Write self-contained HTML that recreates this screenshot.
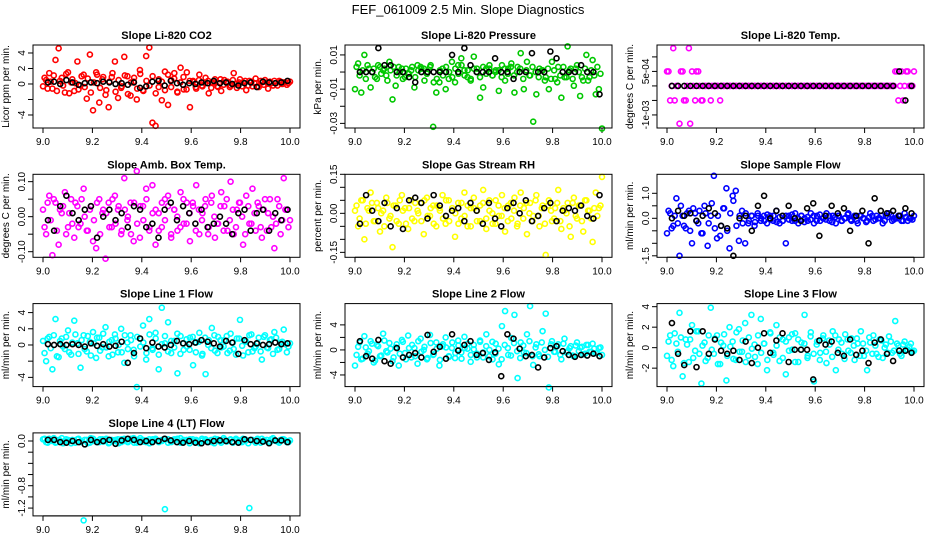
<!DOCTYPE html>
<html><head><meta charset="utf-8"><style>
body{margin:0;background:#fff}
svg{display:block;font-family:"Liberation Sans",sans-serif}
</style></head><body>
<svg id="c" width="936" height="540" viewBox="0 0 936 540">
<rect width="936" height="540" fill="#fff"/>
<text x="468" y="14" text-anchor="middle" font-size="13">FEF_061009  2.5 Min. Slope Diagnostics</text>
</svg>
<script>
const titles=["Slope Li-820 CO2","Slope Li-820 Pressure","Slope Li-820 Temp.","Slope Amb. Box Temp.","Slope Gas Stream RH","Slope Sample Flow","Slope Line 1 Flow","Slope Line 2 Flow","Slope Line 3 Flow","Slope Line 4 (LT) Flow"];
const ylabels=["Licor ppm per min.","kPa per min.","degrees C per min.","degrees C per min.","percent per min.","ml/min per min.","ml/min per min.","ml/min per min.","ml/min per min.","ml/min per min."];
const colors=["#ff0000","#00c800","#ff00ff","#ff00ff","#ffff00","#0000ff","#00ffff","#00ffff","#00ffff","#00ffff"];
const ylims=[[-5.68,5.03],[-0.0327,0.0158],[-0.00145,0.00141],[-0.116,0.121],[-0.169,0.15],[-1.56,1.76],[-5.14,5.11],[-5.86,7.4],[-3.8,4.3],[-1.34,0.145]];
const yticks=[[-4,-2,0,2,4],[-0.03,-0.02,-0.01,0,0.01],[-0.001,-0.0005,0,0.0005,0.001],[-0.1,-0.05,0,0.05,0.1],[-0.15,-0.1,-0.05,0,0.05,0.1,0.15],[-1.5,-1,-0.5,0,0.5,1],[-4,-2,0,2,4],[-4,-2,0,2,4],[-2,0,2,4],[-1.2,-1,-0.8,-0.6,-0.4,-0.2,0]];
const ytickLabels=[["-4","","0","2","4"],["-0.03","","-0.01","","0.01"],["-1e-03","","","5e-04",""],["-0.10","","0.00","","0.10"],["-0.15","","","0.00","","","0.15"],["-1.5","","","0.0","","1.0"],["-4","","0","2","4"],["-4","","0","","4"],["-2","0","2","4"],["-1.2","","-0.8","","","","0.0"]];
const xticks=[9.0,9.2,9.4,9.6,9.8,10.0];
const xtickLabels=["9.0","9.2","9.4","9.6","9.8","10.0"];
const colored=[
[-0.3,0.5,1.4,-0.6,3.1,4.6,0.8,-1.1,1.5,0.2,-0.9,2.9,-0.2,1.2,-1.9,3.8,-3.4,1.5,-2.4,0.6,-1.4,-3.0,0.9,2.9,-1.8,-0.5,3.5,1.0,-1.5,0.3,-2.0,1.8,-0.8,3.6,4.7,-5.0,-5.4,-0.4,-2.1,1.6,-2.7,0.5,1.4,-1.1,2.1,-0.7,1.5,-3.0,0.4,-0.6,1.2,-0.3,0.8,-1.2,0.2,0.6,-0.4,-0.9,0.5,0.3,-0.2,1.4,-0.5,0.6,0.2,-0.8,0.4,-0.3,0.7,-0.4,0.2,0.5,-0.6,0.1,0.4,-0.2,0.3,0.2,-0.1,0.3],
[-0.01,0.005,-0.012,0.01,0.004,-0.009,0.002,-0.004,0.003,0.001,-0.002,0.006,-0.016,-0.008,0.003,0.002,-0.003,-0.001,0.001,-0.009,0.004,0.003,0.002,-0.001,0.003,-0.032,-0.012,-0.006,0.002,-0.01,-0.004,0.006,-0.006,0.004,0.008,0.001,-0.003,-0.005,0.009,0.002,-0.015,-0.009,0.002,0.004,-0.002,0.001,-0.011,0.004,-0.005,0.002,0.005,-0.012,0.003,0.011,-0.01,0.006,-0.002,-0.029,-0.013,0.002,0.001,-0.003,-0.01,0.006,-0.004,0.003,-0.015,-0.003,0.015,0.002,-0.008,0.004,-0.014,-0.005,0.01,-0.003,0.007,-0.013,-0.01,-0.033],
[5e-4,-5e-4,1.3e-3,0,-1.3e-3,5e-4,-5e-4,1.3e-3,5e-4,-5e-4,5e-4,-5e-4,0,0,-5e-4,0,0,-5e-4,0,0,0,0,0,0,0,0,0,0,0,0,0,0,0,0,0,0,0,0,0,0,0,0,0,0,0,0,0,0,0,0,0,0,0,0,0,0,0,0,0,0,0,0,0,0,0,0,0,0,0,0,0,0,0,5e-4,-5e-4,5e-4,0,5e-4,0,5e-4],
[0.02,-0.05,0.06,-0.11,0.04,-0.08,0.01,0.07,-0.03,0.05,-0.06,0.03,-0.02,0.08,-0.04,0.02,-0.07,-0.09,0.05,0.01,-0.12,0.04,-0.03,0.06,0.02,-0.05,0.11,-0.01,0.04,-0.07,0.13,-0.06,0.03,0.08,-0.04,0.09,-0.08,0.01,-0.03,0.05,0.06,-0.06,0.02,-0.04,0.07,-0.02,0.04,-0.07,0.03,0.09,-0.05,0.01,0.05,-0.03,0.06,-0.06,-0.02,0.07,0.03,-0.04,0.1,-0.05,0.02,0.04,-0.08,0.06,-0.02,0.08,-0.04,0.03,-0.06,0.05,0.01,-0.03,-0.09,0.05,-0.05,0.11,0.02,-0.01],
[0.01,-0.05,0.05,-0.1,0.02,0.08,-0.03,0.04,-0.07,0.01,0.06,-0.02,-0.13,0.03,-0.04,0.07,0.02,-0.06,0.05,-0.03,0.01,0.04,-0.08,0.06,-0.01,0.03,-0.05,0.02,0.07,-0.04,0.05,0.01,-0.09,0.04,-0.02,0.08,-0.05,0.02,0.06,-0.03,0.03,0.09,-0.06,0.01,-0.04,0.05,-0.01,0.07,-0.07,0.03,-0.02,0.06,-0.04,0.08,0.02,-0.08,0.04,-0.01,0.07,-0.05,0.03,-0.16,0.05,-0.03,0.02,0.09,-0.06,0.01,0.04,-0.09,0.06,-0.02,0.03,-0.07,0.05,0.01,-0.11,0.08,0.02,0.14],
[-0.6,0.2,-0.3,0.8,-1.5,0.1,-0.4,0.3,-1.0,0.2,-0.2,-0.6,0.5,-1.1,0.1,1.7,-0.8,-0.7,0.4,1.2,-1.2,0.9,1.1,-0.9,0.3,-1.0,-0.2,0.1,-0.3,0.2,-0.1,0.1,-0.2,0.1,-0.1,0.3,-0.2,-0.1,-1.0,0.1,-0.1,0.2,-0.2,0.1,0,-0.1,0.2,-0.2,0.1,-0.1,0,0.2,-0.1,0.1,-0.2,0.1,-0.1,0,0.2,-0.1,0.1,-0.2,0.1,0,-0.1,0.2,-0.1,0.1,0,-0.2,0.1,0.2,-0.1,0,0.1,-0.1,0.2,-0.1,0,0.1],
[0.5,-2,1,-3,3.2,-1.5,0.8,-0.5,1.8,-1.2,3,0.2,-2.8,1.2,-0.8,0.4,1.6,-1.6,0.9,-0.3,2.2,-1.4,0.6,1.3,-0.9,2.0,-2.2,0.3,1.2,-0.6,-5.2,0.8,2.4,-1.8,3.2,-0.4,1.5,-3,4.6,0.2,2.8,-1,0.5,-3.5,1.1,-0.6,-0.2,0.9,-2.5,0.3,1.5,-1.1,-3.6,0.6,2.1,-0.7,1.0,-0.3,0.6,-1.0,1.4,-0.5,0.8,3.1,-1.3,0.4,1.2,-0.8,-0.2,0.9,-1.8,1.2,-0.4,0.7,1.6,-0.6,0.3,1.9,-0.9,0.2],
[-2.5,0.5,-1.5,2.2,-0.6,1.4,-2,0.8,-1,2.6,-0.2,1.1,-1.8,0.4,-2.5,1.6,-0.5,2.3,-1.2,0.3,-2.2,1.8,0,-1.5,2.4,-0.8,1.2,-2.5,0.6,2,-1.0,0.3,-1.3,1.5,-0.4,2.1,0.2,-1.9,0.8,-0.6,1.3,-1.2,2.5,0,-1.5,1.0,-2.3,3.8,6.2,-0.8,1.9,5.6,-4.5,1.2,-0.4,2.5,7,-2.4,0.9,-1.0,3,5.8,-6,1.4,-0.3,0.9,-1.5,1.8,-0.2,0.6,-1.0,1.2,0.4,-0.7,0.8,-0.3,1.0,-0.5,0.3,-0.8],
[-0.8,1.2,-1.8,0.4,3.4,-2.8,0.8,-1.4,2.2,-0.3,1.6,-3.5,0.5,-1.0,3.9,-0.6,1.2,-1.6,0.2,-3.2,2.0,0.6,-1.2,1.8,-0.4,2.4,-0.8,3.2,0.3,-1.6,2.8,0.4,-2.2,1.5,-0.5,2.2,-1.3,0.8,-2.6,1.0,-0.2,1.4,-1.4,0.5,3.2,-0.8,1.5,-3.3,0.6,-0.5,1.2,-1.5,0.3,1.6,-2.2,0.8,-0.6,1.3,-0.3,0.9,-1.2,0.4,1.6,-0.8,-2.2,0.5,1.2,-0.6,0.8,-1.0,0.3,1.1,-0.5,2.6,0.2,-0.8,0.6,-0.2,0.4,-0.3],
[0.03,-0.02,0.04,0,-0.03,0.02,0.05,-0.01,0.02,-0.04,0.01,0.03,-0.02,-1.42,0.02,-0.03,0.04,0,-0.02,0.03,0.01,-0.04,0.02,0,0.03,-0.02,0.04,-0.01,0.02,0.05,-0.03,0.01,0.02,-0.02,0.03,0,0.04,-0.01,0.02,-1.22,0.03,-0.02,0.01,0.04,-0.03,0.02,0,0.03,-0.01,0.02,-0.04,0.01,0.03,0,-0.02,0.04,0.01,-0.03,0.02,0,0.03,-0.01,0.02,-0.02,0.04,0.01,-1.2,0.02,-0.03,0.01,0.04,0,-0.02,0.03,0.01,-0.01,0.02,0.03,-0.02,0.01]];
const coloredCore=[
[0.8,-0.6,0.3,1.1,-0.9,0.4,-0.2,1.3,-1.2,0.6,0.1,-0.7,1.0,-0.4,0.7,-1.1,0.2,1.2,-0.5,0.9,-0.8,0.3,1.4,-1.0,0.5,-0.3,1.1,-1.3,0.2,0.8,-0.6,1.3,-0.9,0.4,-0.2,1.0,-1.2,0.6,0.3,-0.8,1.2,-0.4,0.7,-1.0,0.2,0.9,-0.7,0.4,0.3,-0.4,0.5,-0.2,0.1,0.4,-0.5,0.2,-0.3,0.6,-0.1,0.3,-0.4,0.5,0,0.2,-0.3,0.4,-0.2,0.3,0.1,-0.3,0.4,-0.1,0.2,0.3,-0.2,0.1,0.4,0,0.2,0.1],
[0.003,-0.002,0.001,-0.004,0.002,0,-0.003,0.004,-0.001,0.002,-0.005,0.001,0.003,-0.002,0,-0.004,0.002,-0.001,0.003,-0.003,0.001,0.002,-0.005,0,0.004,-0.006,-0.004,0.001,-0.002,0.003,0,-0.003,0.002,-0.001,0.004,-0.002,0.001,-0.004,0.002,0,-0.003,0.003,-0.001,0.002,-0.002,0,0.001,-0.003,0.002,-0.001,0.003,-0.002,0,0.002,-0.004,0.001,-0.002,0.003,0,-0.003,0.001,-0.005,0.002,-0.004,0.001,-0.006,-0.002,0.003,-0.003,0.001,-0.004,0.002,0,-0.003,0.002,-0.005,0.001,-0.002,0.003,-0.001],
[5e-4,0,-5e-4,0,5e-4,-5e-4,0,-1.3e-3,0,5e-4,0,-5e-4,0,0,0,0,0,0,0,0,0,0,0,0,0,0,0,0,0,0,0,0,0,0,0,0,0,0,0,0,0,0,0,0,0,0,0,0,0,0,0,0,0,0,0,0,0,0,0,0,0,0,0,0,0,0,0,0,0,0,0,0,0,0,5e-4,0,-5e-4,5e-4,0,0],
[-0.03,0.04,-0.01,0.05,-0.04,0.02,0.03,-0.05,0.01,-0.02,0.04,-0.03,0.05,0,-0.04,0.03,-0.01,0.04,-0.05,0.02,0.01,-0.03,0.05,-0.02,0.03,-0.04,0.02,0,-0.05,0.04,-0.02,0.03,-0.01,0.05,-0.03,0.01,0.02,-0.04,0.04,-0.01,0.03,-0.05,0.02,0,-0.03,0.05,-0.02,0.01,0.04,-0.04,0.02,-0.01,0.03,-0.05,0.04,0,-0.02,0.03,-0.04,0.05,-0.01,0.02,-0.03,0.04,0,-0.05,0.03,-0.02,0.01,0.04,-0.03,0.02,-0.04,0.05,0,-0.02,0.03,-0.01,0.02,-0.03],
[0.03,-0.02,0.05,-0.04,0.01,0.04,-0.03,0.02,0,-0.05,0.04,-0.01,0.03,-0.03,0.05,0.01,-0.04,0.02,-0.02,0.04,0,-0.03,0.05,-0.01,0.02,-0.04,0.03,0.01,-0.02,0.05,-0.03,0.02,0,-0.04,0.04,-0.01,0.03,-0.05,0.02,0.01,-0.03,0.04,-0.02,0.05,0,-0.04,0.03,-0.01,0.02,-0.03,0.04,0.01,-0.05,0.03,-0.02,0.04,0,-0.03,0.05,-0.01,0.02,-0.04,0.03,0.01,-0.02,0.04,-0.03,0.02,0,-0.05,0.04,-0.01,0.03,-0.03,0.05,0.01,-0.02,0.02,-0.01,0.03],
[0.3,-0.4,0.1,-0.2,0.5,-0.3,0.2,-0.5,0.4,-0.1,0.3,-0.6,0.2,-0.2,0.6,-0.4,0.1,-0.3,0.4,-0.5,0.2,0.7,-0.3,0.1,-0.2,0.2,-0.1,0.1,-0.15,0.1,0,-0.1,0.15,-0.05,0.1,-0.15,0.05,-0.1,0.1,-0.05,0.15,-0.1,0,0.1,-0.15,0.05,-0.05,0.1,-0.1,0.15,0,-0.05,0.1,-0.15,0.05,0.1,-0.1,0,0.15,-0.05,0.05,-0.1,0.1,0,-0.15,0.05,0.1,-0.05,0,0.1,-0.1,0.05,0.15,-0.05,0,0.1,-0.1,0.05,0,-0.05],
[-1.0,0.8,-0.4,1.2,-1.4,0.5,-0.2,1.0,-0.9,0.3,1.3,-1.1,0.6,-0.5,1.1,-1.3,0.2,0.9,-0.7,1.4,-0.3,0.4,-1.2,0.8,0,-0.9,1.2,-0.5,0.6,-1.4,1.0,-0.2,0.3,-1.0,1.3,-0.6,0.8,-1.2,0.1,1.1,-0.8,0.5,-0.3,1.4,-1.1,0.2,0.7,-0.6,1.0,-0.9,0.4,-1.3,0.9,0,-0.4,1.2,-1.0,0.6,-0.2,1.1,-0.7,0.3,-1.2,0.8,-0.1,0.5,-0.9,1.3,-0.4,0.2,-0.8,1.0,-0.3,0.6,-1.1,0.9,-0.5,0.4,0.1,-0.2],
[-0.8,1.2,-1.4,0.4,-0.2,1.0,-1.7,0.6,-0.9,1.5,-0.4,0.2,-1.2,0.9,-0.6,1.3,-1.5,0.3,0.8,-1.0,1.4,-0.3,0.5,-1.3,1.1,-0.7,0.2,-1.6,0.9,0.4,-1.1,1.2,-0.5,0.7,-1.4,0.3,1.0,-0.8,0.1,-1.2,1.5,-0.4,0.6,-1.0,1.3,-0.6,0.2,-1.5,0.8,0.3,-0.9,1.1,-0.2,-1.3,0.7,-0.5,1.4,-1.0,0.4,-0.7,1.2,0,-1.1,0.9,-0.3,0.6,-0.8,1.0,-0.4,0.3,-0.9,0.7,-0.2,0.5,-0.6,0.8,-0.3,0.2,-0.5,0.4],
[0.6,-1.2,1.4,-0.4,1.0,-1.5,0.3,0.8,-1.0,1.6,-0.6,0.2,-1.3,1.2,-0.2,0.9,-1.6,0.5,1.3,-0.8,0.1,-1.1,1.5,-0.4,0.7,-1.4,1.0,-0.1,-0.9,1.2,-0.5,0.4,-1.2,1.4,-0.7,0.2,1.0,-1.0,0.6,-0.3,1.3,-1.4,0.8,-0.2,0.4,-1.0,1.1,-0.6,0.3,-1.2,0.9,-0.4,0.7,-0.9,1.2,-0.2,0.5,-1.1,0.8,-0.5,0.2,0.9,-0.8,0.4,-0.3,1.0,-0.6,0.2,-0.9,0.7,0,-0.5,0.6,-0.3,0.4,-0.6,0.3,-0.2,0.1,-0.4],
[0.04,-0.03,0.02,0.05,-0.02,0.01,-0.04,0.03,0,0.02,-0.03,0.04,-0.01,0.02,-0.04,0.05,0,-0.02,0.03,-0.01,0.04,-0.03,0.01,0.02,-0.04,0.03,0,-0.02,0.04,-0.03,0.02,0.05,-0.01,0.01,-0.04,0.03,0.02,-0.02,0,0.04,-0.03,0.01,0.03,-0.02,0.05,-0.01,0.02,-0.04,0.03,0,-0.03,0.04,0.01,-0.02,0.02,-0.04,0.03,0,0.05,-0.01,0.02,-0.03,0.04,0.01,-0.02,0.03,-0.04,0.02,0,0.04,-0.03,0.01,0.02,-0.02,0.05,0,-0.03,0.03,0.01,-0.02]];
const black=[
[0.2,0.3,0,0.5,0.2,-0.1,0.1,0.2,0.1,0.3,0.2,0,0.1,-0.1,0.2,-0.5,-0.3,0.3,0.4,-0.2,0.4,0.1,-0.1,0.1,0,0.2,0.1,0.4,0.1,0.2,0,-0.2,0.1,0.2,-0.4,0.3,0.2,0.1,0.2,0.4],
[0,0,0,0.014,0.004,0.004,0,0,-0.003,-0.006,0,0,0,0,0,0.01,0,0.014,0.004,0,0,0,0.008,0,0,-0.004,0,0,0.011,0,0,0.012,0.008,0,0,0,0.004,0,0,-0.013],
[0,0,0,0,0,0,0,0,0,0,0,0,0,0,0,0,0,0,0,0,0,0,0,0,0,0,0,0,0,0,0,0,0,0,0,0,0,5e-4,-5e-4,0],
[-0.01,-0.04,0.03,0.06,0.01,-0.01,0.02,0.03,-0.06,0,0.02,-0.01,0.01,-0.03,0.03,0.02,-0.03,-0.02,-0.06,0.02,0.04,-0.01,0.03,0.01,-0.02,0.02,-0.03,-0.02,0,-0.02,-0.05,0.01,0.02,-0.04,0.01,0.02,-0.04,0.01,-0.01,0.02],
[-0.04,0.07,0.01,-0.03,0.04,-0.05,0.02,-0.06,0.05,0.06,0.04,-0.02,0.07,0.03,-0.01,0.01,0.02,-0.03,0.04,0.01,-0.04,0.04,-0.02,-0.05,0.02,0.04,0,0.05,-0.03,-0.01,0.02,0.04,-0.03,0.01,0.02,0.01,0.03,-0.01,-0.02,0.07],
[0,0.3,0.1,0.2,-0.1,0.1,0.4,0.2,-0.3,-0.4,-1.5,0,0.1,-0.5,0.5,0.9,0,0.3,0.1,0.5,0,-0.1,0.4,0.6,-0.7,0.1,0.5,0.2,0.4,-0.5,0.1,0.3,-1.0,0.8,0.3,0.2,0.3,0.1,0.4,0.2],
[0.1,0,0.1,0,0.1,0,-0.2,0.2,-0.1,0.1,-0.2,-0.1,0.4,-2.2,-1.0,0.8,-0.4,0.3,-0.2,-0.3,0,0.5,0.2,0.1,0.3,0.6,0.4,0.2,-0.2,0.5,0.3,-1.1,0.6,0.1,0.2,0,0.1,0.3,0.1,0.2],
[1.4,-1,-1.4,1.6,-1.8,-2.2,0.3,-1.2,-0.8,-0.5,-1.2,2.4,-0.3,0.5,-1.4,2.5,-0.1,0.8,1.4,-0.8,-0.5,-1.6,-0.4,-4.2,2.5,1.8,0.2,-1.0,-0.8,-2.8,-1.2,0.3,0.6,-0.2,-0.8,-1.1,-0.8,-0.9,-0.6,-1.0],
[2.4,-0.6,-1.7,1.6,-1.9,1.6,-0.6,0.8,-0.3,-0.6,-0.3,-1.2,0.6,-1.5,0,1.4,-0.5,0.7,1.4,-1.4,-0.2,-0.2,-0.2,-3.1,0.7,0.3,0.6,-0.5,-0.8,0.8,-0.7,-0.3,-1.5,0.5,0.8,-0.6,-1.3,-0.3,-0.3,-0.5],
[0.02,0.02,-0.02,-0.03,0,-0.02,-0.06,0.02,-0.02,0,0.02,-0.05,0.01,0.04,0.02,-0.02,0,-0.02,0,0.04,0.01,-0.02,-0.03,0,-0.03,-0.04,-0.02,0,0.01,0,-0.02,-0.03,0.03,0.02,0,-0.01,-0.04,0.01,0.01,-0.02]];

const NS="http://www.w3.org/2000/svg";
const svg=document.getElementById('c');
function mk(tag,attrs,parent){const e=document.createElementNS(NS,tag);for(const k in attrs)e.setAttribute(k,attrs[k]);(parent||svg).appendChild(e);return e;}
const slug=s=>s.toLowerCase().replace(/[^a-z0-9]+/g,'-').replace(/^-|-$/g,'');
titles.forEach((t,i)=>{
  const col=i%3,row=Math.floor(i/3);
  const L=33+312*col,W=267,T=45+129.3*row,H=83;
  const xs=v=>L+10+(v-9)*247;
  const ys=v=>T+H-(v-ylims[i][0])/(ylims[i][1]-ylims[i][0])*H;
  const g=mk('g',{});
  
  
  const tt=mk('text',{x:L+W/2,y:T-6,'text-anchor':'middle','font-size':'11','font-weight':'bold'},g);tt.textContent=t;
  
  
  const yl=mk('text',{x:0,y:0,transform:`translate(${L-24},${T+H/2}) rotate(-90)`,'text-anchor':'middle','font-size':'10'},g);yl.textContent=ylabels[i];
  
  
  const xa=mk('g',{},g);
  
  
  mk('line',{x1:xs(9),x2:xs(10),y1:T+H,y2:T+H,stroke:'#000'},xa);
  xticks.forEach((v,k)=>{
    mk('line',{x1:xs(v),x2:xs(v),y1:T+H,y2:T+H+5,stroke:'#000'},xa);
    const lb=mk('text',{x:xs(v),y:T+H+17,'text-anchor':'middle','font-size':'10'},xa);lb.textContent=xtickLabels[k];
    
    
  });
  const ya=mk('g',{},g);
  
  
  yticks[i].forEach((v,k)=>{
    mk('line',{x1:L-5,x2:L,y1:ys(v),y2:ys(v),stroke:'#000'},ya);
    if(ytickLabels[i][k]){const lb=mk('text',{x:0,y:0,transform:`translate(${L-8},${ys(v)}) rotate(-90)`,'text-anchor':'middle','font-size':'10'},ya);lb.textContent=ytickLabels[i][k];
      
      }
  });
  const pts=mk('g',{fill:'none','stroke-width':'1.6'},g);
  
  
  const c=colored[i],cc=coloredCore[i],b=black[i];
  c.forEach((v,k)=>{const p=mk('circle',{cx:xs(9+k/(c.length-1)),cy:ys(v),r:2.5,stroke:colors[i]},pts);
    
    });
  cc.forEach((v,k)=>{const p=mk('circle',{cx:xs(9+(k+0.5)/cc.length),cy:ys(v),r:2.5,stroke:colors[i]},pts);
    
    });
  b.forEach((v,k)=>{const p=mk('circle',{cx:xs(9.02+0.97*k/(b.length-1)),cy:ys(v),r:2.5,stroke:'#000'},pts);
    
    });
  const bx=mk('rect',{x:L,y:T,width:W,height:H,fill:'none',stroke:'#000'},g);
  
  
});
</script>
</body></html>
